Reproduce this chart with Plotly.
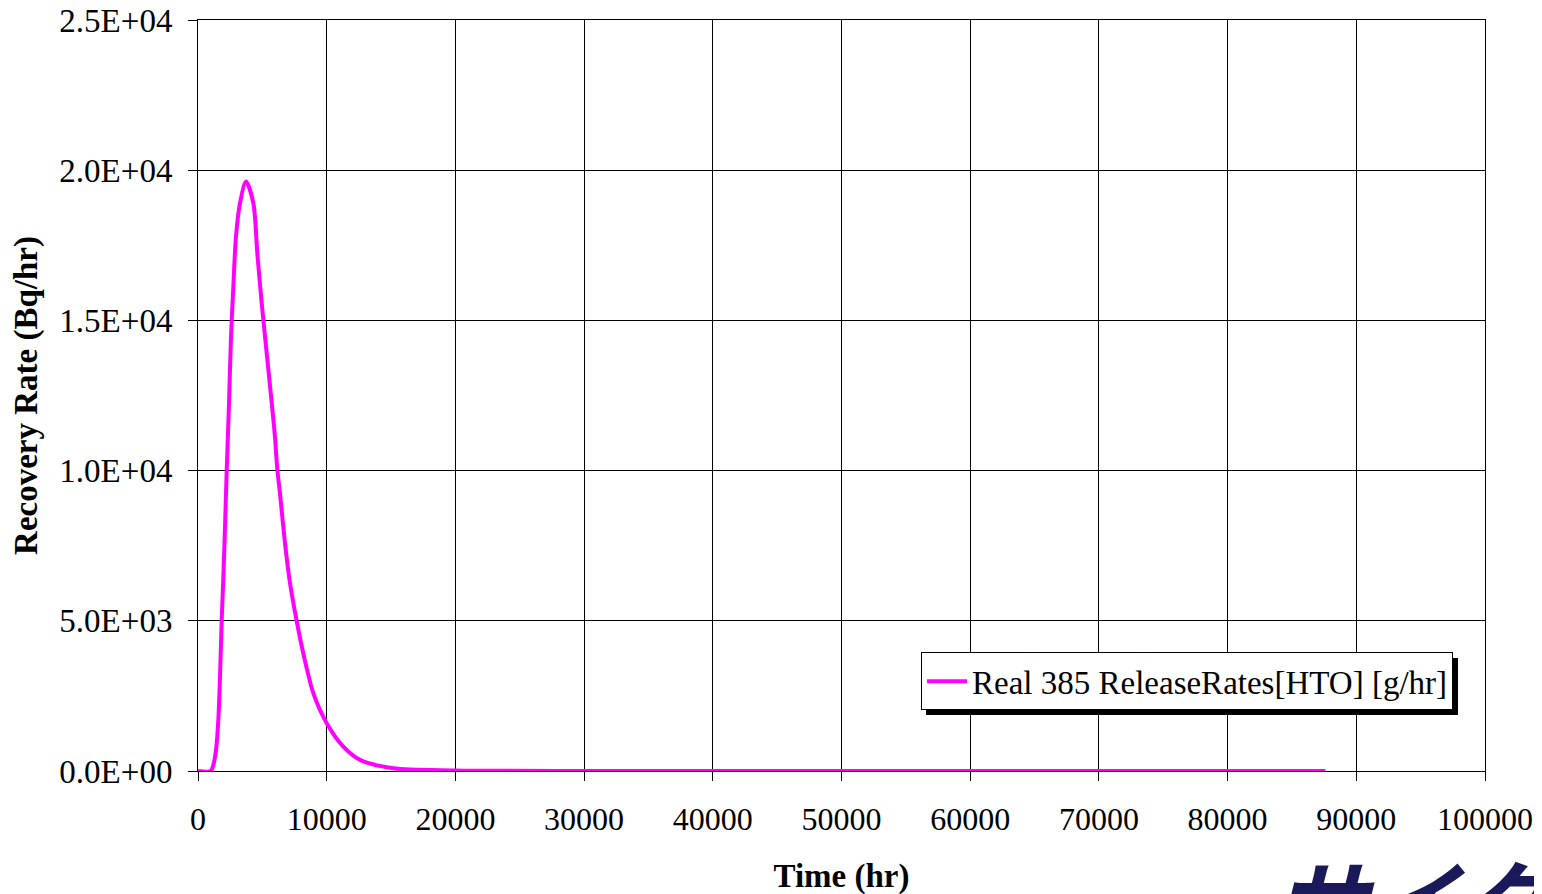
import plotly.graph_objects as go

# values
time_hr = [0, 990, 1190, 1400, 1580, 1710, 1840, 1970, 2100, 2230, 2410, 2565, 2745,
           2950, 3260, 3730, 4300, 4610, 4950, 5340, 5730, 5980, 6150, 6370, 6760,
           7150, 7670, 8180, 8960, 10000, 11290, 12590, 15180, 20000, 30000, 40000,
           50000, 60000, 70000, 80000, 87600]
release_rate = [0, 0, 200, 700, 1700, 3140, 4990, 6470, 8130, 10000, 12240, 14460, 16120,
                17790, 18900, 19620, 18900, 17230, 15570, 13900, 12240, 11130, 10100, 9240, 7580,
                6250, 4990, 3920, 2590, 1590, 810, 370, 90, 20, 0, 0,
                0, 0, 0, 0, 0]

series_name = "Real 385 ReleaseRates[HTO] [g/hr]"
y_ticks = [0, 5000, 10000, 15000, 20000, 25000]
y_tick_text = ["0.0E+00", "5.0E+03", "1.0E+04", "1.5E+04", "2.0E+04", "2.5E+04"]
x_ticks = [0, 10000, 20000, 30000, 40000, 50000, 60000, 70000, 80000, 90000, 100000]

serif = "Liberation Serif, Times New Roman, serif"

fig = go.Figure()
fig.add_trace(go.Scatter(
    x=time_hr, y=release_rate, mode="lines", name=series_name,
    line=dict(color="#FF00FF", width=4, shape="spline", smoothing=0.8),
))

# the page body adds an 8px offset, margins account for it
fig.update_layout(
    width=1542, height=894,
    margin=dict(l=190, r=65, t=12, b=131, autoexpand=False),
    paper_bgcolor="white", plot_bgcolor="white",
    font=dict(family=serif, size=33, color="black"),
    showlegend=True,
    legend=dict(x=0.5618, y=0.158, xanchor="left", yanchor="top",
                bgcolor="white", bordercolor="black", borderwidth=1,
                font=dict(family=serif, size=33, color="black"),
                itemwidth=40, tracegroupgap=0),
)

fig.update_xaxes(
    range=[0, 100000], tickvals=x_ticks, tickformat="d",
    showgrid=True, gridcolor="black", gridwidth=1,
    showline=True, linecolor="black", linewidth=1, mirror=True,
    ticks="outside", ticklen=9, tickcolor="black", ticklabelstandoff=11,
    ticklabeloverflow="allow",
    tickfont=dict(family=serif, size=32),
    zeroline=False, automargin=False,
    title=dict(text="<b>Time (hr)</b>", font=dict(family=serif, size=33), standoff=27),
)
fig.update_yaxes(
    range=[0, 25000], tickvals=y_ticks, ticktext=y_tick_text,
    showgrid=True, gridcolor="black", gridwidth=1,
    showline=True, linecolor="black", linewidth=1, mirror=True,
    ticks="outside", ticklen=9, tickcolor="black", ticklabelstandoff=9,
    ticklabeloverflow="allow",
    tickfont=dict(family=serif, size=33),
    zeroline=False, automargin=False,
    title=dict(text="<b>Recovery Rate (Bq/hr)</b>", font=dict(family=serif, size=33), standoff=11),
)

# legend drop shadow (legend itself is drawn on top of shapes)
fig.add_shape(type="rect", xref="paper", yref="paper",
              x0=(926 - 198) / 1287, x1=(1458 - 198) / 1287,
              y0=(771 - 715) / 751, y1=(771 - 658) / 751,
              fillcolor="black", line=dict(width=0), layer="above")

# partly visible logo at the bottom edge
fig.add_annotation(
    text="<b><i>サイクル</i></b>", xref="paper", yref="paper",
    x=(1273 - 198) / 1287, y=-(829 - 771) / 751, xanchor="left", yanchor="top",
    showarrow=False, font=dict(family="Noto Sans CJK JP", size=92, color="#1a1a5a"),
)

fig.write_html("out.html")
